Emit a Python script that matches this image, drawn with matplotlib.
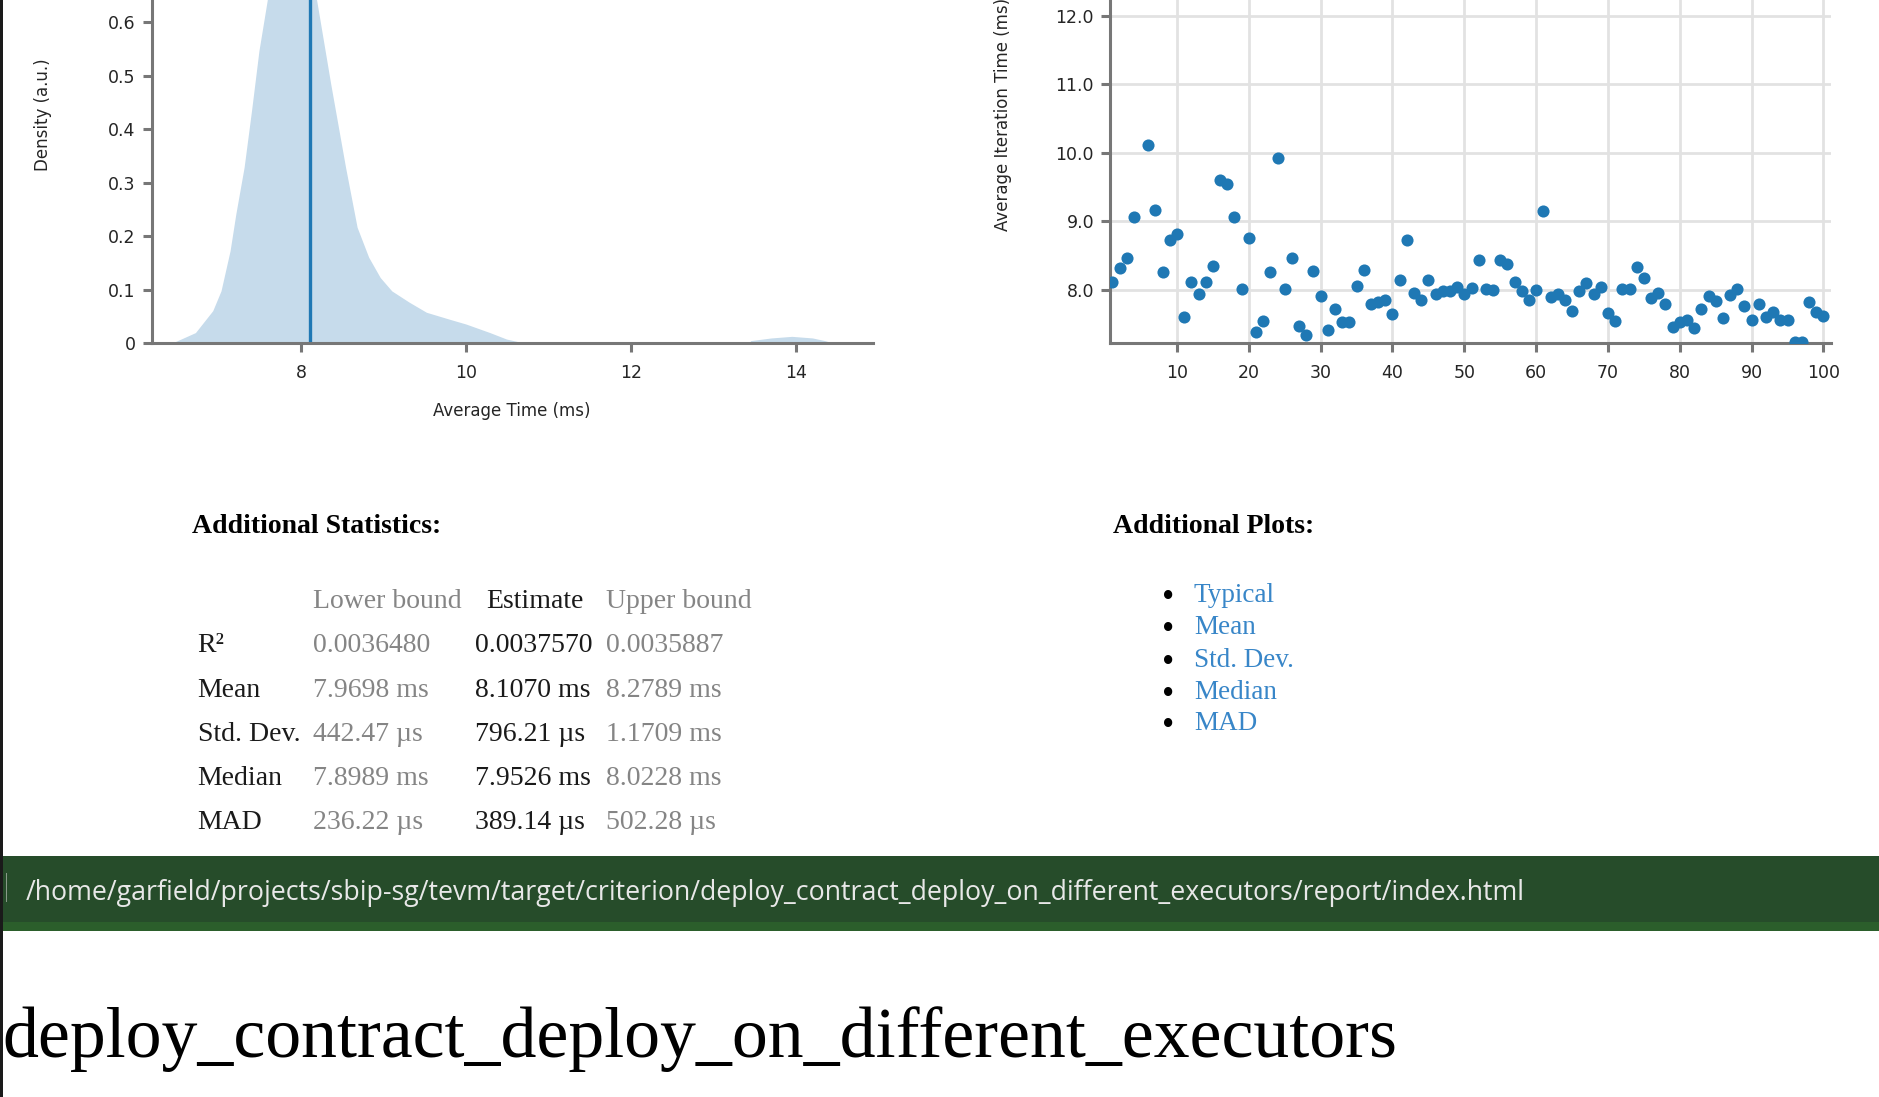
import matplotlib
matplotlib.use('Agg')
import matplotlib.pyplot as plt
from matplotlib.patches import Rectangle

# figure is a screenshot of a criterion report, sizes in pixels
W, H = 1879, 1097

# density plot (kde of average time)
dens_x = [6.43, 6.72, 6.93, 7.03, 7.14, 7.21, 7.31, 7.40, 7.49, 7.59, 7.70, 7.87,
          8.02, 8.19, 8.36, 8.54, 8.68, 8.82, 8.96, 9.10, 9.31, 9.52, 9.80, 10.00,
          10.29, 10.49, 10.72, 13.43, 13.45, 13.70, 13.95, 14.20, 14.35, 14.46]
dens_y = [0.0, 0.020, 0.061, 0.098, 0.173, 0.242, 0.329, 0.435, 0.547, 0.641, 0.76, 0.84,
          0.80, 0.641, 0.485, 0.329, 0.217, 0.161, 0.123, 0.098, 0.077, 0.058, 0.045, 0.036,
          0.020, 0.008, 0.0, 0.0, 0.005, 0.010, 0.013, 0.010, 0.005, 0.0]
mean_estimate = 8.107

# average iteration time per sample (ms)
sample_idx = list(range(1, 101))
iter_time = [8.11, 8.32, 8.47, 9.07, 13.90, 10.11, 9.17, 8.26, 8.73, 8.82,
             7.61, 8.11, 7.94, 8.11, 8.35, 9.61, 9.55, 9.07, 8.02, 8.76,
             7.39, 7.55, 8.26, 9.93, 8.02, 8.46, 7.47, 7.34, 8.28, 7.91,
             7.41, 7.73, 7.54, 7.54, 8.06, 8.29, 7.79, 7.83, 7.85, 7.65,
             8.15, 8.73, 7.95, 7.85, 8.15, 7.94, 7.99, 7.99, 8.04, 7.94,
             8.03, 8.44, 8.02, 8.00, 8.44, 8.38, 8.12, 7.99, 7.85, 8.00,
             9.15, 7.90, 7.94, 7.85, 7.70, 7.99, 8.10, 7.94, 8.04, 7.67,
             7.55, 8.02, 8.02, 8.33, 8.17, 7.88, 7.95, 7.80, 7.46, 7.54,
             7.56, 7.44, 7.73, 7.92, 7.84, 7.59, 7.93, 8.02, 7.76, 7.56,
             7.80, 7.61, 7.68, 7.56, 7.56, 7.24, 7.24, 7.83, 7.68, 7.62]

# statistics table
stat_names = ['R²', 'Mean', 'Std. Dev.', 'Median', 'MAD']
lower_bound = ['0.0036480', '7.9698 ms', '442.47 µs', '7.8989 ms', '236.22 µs']
estimate = ['0.0037570', '8.1070 ms', '796.21 µs', '7.9526 ms', '389.14 µs']
upper_bound = ['0.0035887', '8.2789 ms', '1.1709 ms', '8.0228 ms', '502.28 µs']
plot_links = ['Typical', 'Mean', 'Std. Dev.', 'Median', 'MAD']

report_path = '/home/garfield/projects/sbip-sg/tevm/target/criterion/deploy_contract_deploy_on_different_executors/report/index.html'
bench_name = 'deploy_contract_deploy_on_different_executors'

axis_color = '#777777'
tick_color = '#252525'
blue = '#1f78b4'
gray_text = '#858585'
dark_text = '#1a1a1a'
link_color = '#3886c8'
serif = 'Liberation Serif'

fig = plt.figure(figsize=(W / 100, H / 100), dpi=100)
fig.patch.set_facecolor('white')


def fx(x):
    return x / W


def fy(y):
    return 1 - y / H


def ft(x, y, s, **kw):
    return fig.text(fx(x), fy(y), s, **kw)


def style_axes(ax):
    for side in ['top', 'right']:
        ax.spines[side].set_visible(False)
    for side in ['left', 'bottom']:
        ax.spines[side].set_color(axis_color)
        ax.spines[side].set_linewidth(2.2)
    ax.tick_params(axis='both', direction='out', length=6.5, width=2.2, color=axis_color,
                   labelcolor=tick_color, labelsize=12.5)
    ax.tick_params(axis='y', pad=5.0)
    ax.tick_params(axis='x', pad=8.5)
    ax.set_facecolor('none')


# axes rectangles (plot tops are cut off by the screenshot)
ax_bottom = 343.3
ax_height = 456.8
ax_width = 721

# Left: density plot
ax1 = fig.add_axes([fx(151.7), fy(ax_bottom), ax_width / W, ax_height / H])
ax1.fill_between(dens_x, dens_y, color='#c6dbeb', lw=0)
ax1.axvline(mean_estimate, color=blue, lw=2.4)
ax1.set_xlim(6.19, 14.93)
ax1.set_ylim(0, 0.854)
ax1.set_xticks([8, 10, 12, 14])
ax1.set_yticks([0, 0.1, 0.2, 0.3, 0.4, 0.5, 0.6])
ax1.set_yticklabels(['0', '0.1', '0.2', '0.3', '0.4', '0.5', '0.6'])
style_axes(ax1)
ax1.text(0.5, -67.7 / ax_height, 'Average Time (ms)', transform=ax1.transAxes,
         ha='center', va='center', fontsize=12, color=tick_color)
ax1.text(-108.4 / ax_width, 0.5, 'Density (a.u.)', transform=ax1.transAxes,
         ha='center', va='center', rotation=90, fontsize=12, color=tick_color)

# Right: iteration times
ax2 = fig.add_axes([fx(1110), fy(ax_bottom), ax_width / W, ax_height / H])
ax2.grid(True, color='#e2e2e2', lw=2.0)
ax2.set_axisbelow(True)
ax2.scatter(sample_idx, iter_time, s=76, color=blue, lw=0, zorder=3)
ax2.set_xlim(0.67, 101.05)
ax2.set_ylim(7.223, 13.884)
ax2.set_xticks(range(10, 101, 10))
ax2.set_yticks([8, 9, 10, 11, 12, 13])
ax2.set_yticklabels(['8.0', '9.0', '10.0', '11.0', '12.0', ''])
style_axes(ax2)
ax2.text(-106.7 / ax_width, 0.5, 'Average Iteration Time (ms)', transform=ax2.transAxes,
         ha='center', va='center', rotation=90, fontsize=12, color=tick_color)

# Additional statistics table
ft(191.5, 533.3, 'Additional Statistics:', family=serif, fontsize=20, fontweight='bold',
   color='black', va='baseline')
ft(313, 608.3, 'Lower bound', family=serif, fontsize=20, color=gray_text, va='baseline')
ft(486, 608.3, 'Estimate', family=serif, fontsize=20, color=dark_text, va='baseline')
ft(606.4, 608.3, 'Upper bound', family=serif, fontsize=20, color=gray_text, va='baseline')
row_base = [652.3, 696.7, 740.7, 785, 829]
for i, name in enumerate(stat_names):
    ft(197.7, row_base[i], name, family=serif, fontsize=20, color=dark_text, va='baseline')
    ft(313, row_base[i], lower_bound[i], family=serif, fontsize=20, color=gray_text, va='baseline')
    ft(475, row_base[i], estimate[i], family=serif, fontsize=20, color=dark_text, va='baseline')
    ft(606.4, row_base[i], upper_bound[i], family=serif, fontsize=20, color=gray_text, va='baseline')

# Additional plots list
ft(1113.3, 533.3, 'Additional Plots:', family=serif, fontsize=20, fontweight='bold',
   color='black', va='baseline')
link_base = [601.7, 634, 666.7, 699, 730]
for i, name in enumerate(plot_links):
    ft(1167.7, link_base[i] + 5, '•', family=serif, fontsize=25, color='black',
       va='baseline', ha='center')
    ft(1194, link_base[i], name, family=serif, fontsize=19.5, color=link_color, va='baseline')

# Path bar
fig.add_artist(Rectangle((0, fy(930.7)), 1, (930.7 - 856) / H, transform=fig.transFigure,
                         facecolor='#264c2a', edgecolor='none'))
fig.add_artist(Rectangle((0, fy(930.7)), 1, 9 / H, transform=fig.transFigure,
                         facecolor='#2b5e2b', edgecolor='none'))
fig.add_artist(Rectangle((fx(5.5), fy(902)), 1.2 / W, 29 / H, transform=fig.transFigure,
                         facecolor='#8a9a8a', edgecolor='none'))
ft(26, 900, report_path, family='Open Sans', fontsize=19.3, color='#e8e8e8', va='baseline')

# Window border on the left
fig.add_artist(Rectangle((0, 0), 2.7 / W, 1, transform=fig.transFigure,
                         facecolor='#1a1a1a', edgecolor='none'))

# Benchmark title
ft(2, 1057, bench_name, family=serif, fontsize=51.7, color='black', va='baseline')

fig.savefig('out.png', dpi=100)
